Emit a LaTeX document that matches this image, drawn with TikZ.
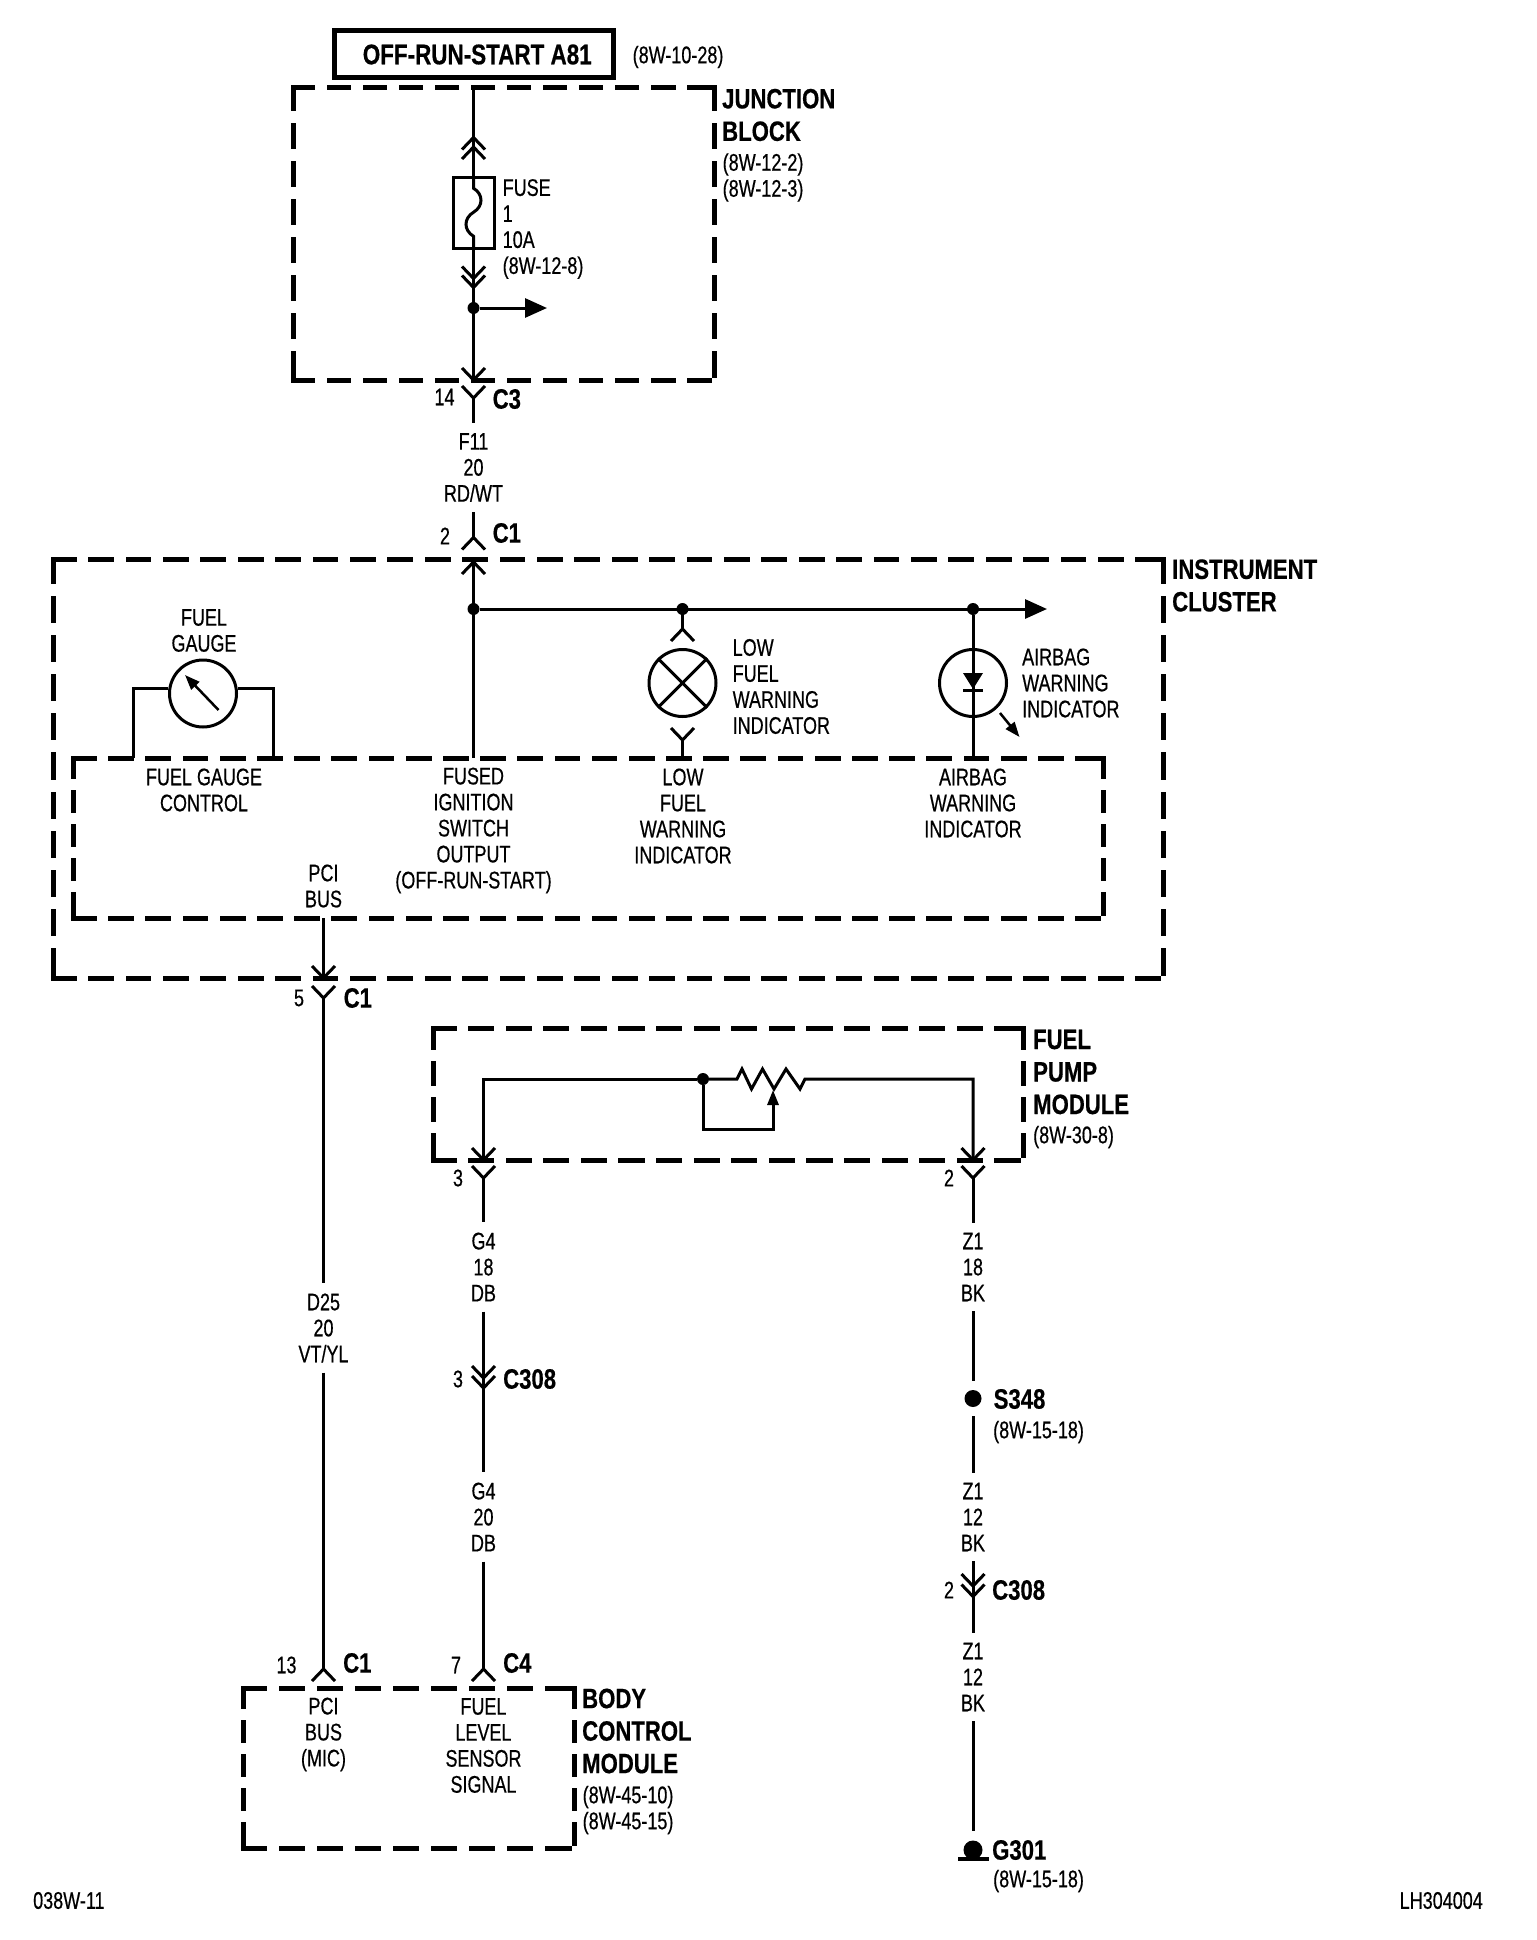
\documentclass[tikz,border=0pt]{standalone}
\usepackage{fontspec}
\usetikzlibrary{arrows.meta}
\newfontfamily\wirefont[FakeStretch=0.75,FakeBold=0.5]{Liberation Sans}
\newfontfamily\namefont[FakeStretch=0.79,FakeBold=0.5,UprightFont={* Bold}]{Liberation Sans}
\newcommand{\modside}[3]{%
  \pgfmathsetmacro{\dashcount}{round((#3-26)/37.5)}%
  \pgfmathsetmacro{\dashper}{#3/(\dashcount+0.693)}%
  \pgfmathsetmacro{\dashon}{0.693*\dashper-5}%
  \pgfmathsetmacro{\dashoff}{0.307*\dashper+5}%
  \draw[line width=5pt,line cap=rect,dash pattern=on \dashon pt off \dashoff pt] (#1) -- (#2);}
\newcommand{\modbox}[4]{%
  \node[inner sep=0pt,outer sep=0pt,minimum width=#3pt,minimum height=#4pt] (#1) at (#2) {};
  \modside{#1.north west}{#1.north east}{#3}
  \modside{#1.south west}{#1.south east}{#3}
  \modside{#1.north west}{#1.south west}{#4}
  \modside{#1.north east}{#1.south east}{#4}}

\begin{document}
\begin{tikzpicture}[x=1pt,y=-1pt]
\tikzset{wire/.style = {line width=3pt}}
\tikzset{edge/.style = {wire,-{Triangle[length=22pt,width=19pt]}}}
\tikzset{smalltip/.style = {line width=2.5pt,-{Triangle[length=15pt,width=11pt]}}}
\tikzset{dot/.style = {shape=circle,fill,inner sep=0pt,minimum size=12pt}}
\tikzset{splice/.style = {shape=circle,fill,inner sep=0pt,minimum size=17pt,outer sep=9pt}}
\tikzset{bulb/.style = {shape=circle,draw,wire,inner sep=0pt,minimum size=67pt}}
\tikzset{txt/.style = {inner xsep=0pt,inner ysep=10pt,align=center,font=\wirefont\fontsize{24}{26}\selectfont}}
\tikzset{ltxt/.style = {txt,anchor=west,align=left}}
\tikzset{partname/.style = {inner sep=0pt,anchor=west,align=left,font=\namefont\fontsize{28}{32.5}\selectfont}}
\tikzset{chevd/.pic = {\draw[wire] (-11.5,-12) -- (0,0) -- (11.5,-12);}}
\tikzset{chevu/.pic = {\draw[wire] (-11.5,12) -- (0,0) -- (11.5,12);}}
\useasboundingbox (0,0) rectangle (1536,1940);

% junction block
\node[draw,line width=5pt,inner sep=0pt,outer sep=0pt,minimum width=279pt,minimum height=47pt,font=\namefont\fontsize{28.4}{32}\selectfont] (feed) at (473.5,54.5) {\hspace*{7.5pt}OFF-RUN-START A81};
\node[ltxt] (feedref) at (632.5,57) {(8W-10-28)};
\modbox{jb}{503.5,233.75}{421}{292.5}
\node[partname] (jbname) at (722,115) {JUNCTION\\BLOCK};
\node[ltxt] (jbref) at (722.5,177.5) {(8W-12-2)\\(8W-12-3)};
\node[draw,wire,inner sep=0pt,minimum width=41pt,minimum height=70.5pt] (fuse) at (473.5,213) {};
\node[ltxt] (fusetxt) at (502.5,229) {FUSE\\1\\10A\\(8W-12-8)};
\coordinate (jbin) at (473.5,87);
\coordinate (fusea) at (473.5,137.5);
\coordinate (fuseb) at (473.5,147);
\coordinate (fusec) at (473.5,278.5);
\coordinate (fused) at (473.5,287.5);
\node[dot] (jbdot) at (473.5,308) {};
\coordinate (jbout) at (547,308);
\coordinate (jbpin) at (473.5,380);
\coordinate (c3) at (473.5,398);
\node[txt] (c3num) at (444.5,397) {14};
\node[partname] (c3name) at (492.5,399) {C3};
\node[txt] (f11) at (473.5,467.5) {F11\\20\\RD/WT};
\coordinate (c1a) at (473.5,537.5);
\node[txt] (c1num) at (445,536) {2};
\node[partname] (c1aname) at (492.5,533) {C1};

\draw[wire] (jbin) -- (fuse.north);
\pic at (fusea) {chevu};
\pic at (fuseb) {chevu};
\draw[wire] (fuse.north) -- ++(0,12) .. controls +(10,6) and +(10,-6) .. ++(0,24) .. controls +(-10,6) and +(-10,-6) .. ++(0,24) -- (fuse.south);
\draw[wire] (fuse.south) -- (jbpin);
\pic at (fusec) {chevd};
\pic at (fused) {chevd};
\draw[edge] (jbdot) -- (jbout);
\pic at (jbpin) {chevd};
\pic at (c3) {chevd};
\draw[wire] (c3) -- (f11);
\draw[wire] (f11) -- (c1a);
\pic at (c1a) {chevu};

% instrument cluster
\modbox{ic}{608.5,768.5}{1110.5}{419}
\node[partname] (icname) at (1172,585.5) {INSTRUMENT\\CLUSTER};
\modbox{ctl}{588.5,838}{1030}{160}
\coordinate (icin) at (473.5,562);
\node[dot] (icdot) at (473.5,609) {};
\node[dot] (lampdot) at (682.5,609) {};
\node[dot] (bagdot) at (973,609) {};
\coordinate (icout) at (1047,609);
\coordinate (icstub) at (473.5,758);

\node[bulb] (gauge) at (203,693.5) {};
\node[txt] (gaugetxt) at (204,630.5) {FUEL\\GAUGE};
\coordinate (gaugel) at (133,758);
\coordinate (gauger) at (273.5,758);
\coordinate (needlea) at (218.5,710);
\coordinate (needleb) at (185,675);

\node[bulb] (lamp) at (682.5,683) {};
\node[ltxt] (lamptxt) at (732.5,686.5) {LOW\\FUEL\\WARNING\\INDICATOR};
\coordinate (lampa) at (682.5,629);
\coordinate (lampb) at (682.5,740);
\coordinate (lampc) at (682.5,758);

\node[bulb] (bag) at (973,683) {};
\node[ltxt] (bagtxt) at (1022,683) {AIRBAG\\WARNING\\INDICATOR};
\coordinate (bagc) at (973,758);
\coordinate (raya) at (1000,713);
\coordinate (rayb) at (1019.5,737);

\node[txt] (ctla) at (204,790) {FUEL GAUGE\\CONTROL};
\node[txt] (ctlb) at (473.5,830.5) {FUSED\\IGNITION\\SWITCH\\OUTPUT\\(OFF-RUN-START)};
\node[txt] (ctlc) at (683,816) {LOW\\FUEL\\WARNING\\INDICATOR};
\node[txt] (ctld) at (973,803) {AIRBAG\\WARNING\\INDICATOR};
\node[txt] (ctle) at (323.5,886) {PCI\\BUS};

\draw[wire] (icin) -- (icstub);
\pic at (icin) {chevu};
\draw[edge] (icdot) -- (icout);
\draw[wire] (gauge.172) -| (gaugel);
\draw[wire] (gauge.8) -| (gauger);
\draw[smalltip] (needlea) -- (needleb);
\draw[wire] (lampdot) -- (lampa);
\pic at (lampa) {chevu};
\draw[wire] (lamp.45) -- (lamp.225);
\draw[wire] (lamp.135) -- (lamp.315);
\pic at (lampb) {chevd};
\draw[wire] (lampb) -- (lampc);
\draw[wire] (bagdot) -- (bagc);
\fill (963,673) -- (983,673) -- (973,689) -- cycle;
\draw[wire] (963,690.5) -- (983,690.5);
\draw[smalltip] (raya) -- (rayb);

% pci bus down to body control module
\coordinate (icpcia) at (323.5,918);
\coordinate (icpcib) at (323.5,978);
\coordinate (c1b) at (323.5,998);
\node[txt] (c1bnum) at (299,998) {5};
\node[partname] (c1bname) at (343.5,998) {C1};
\node[txt] (d25) at (323.5,1328) {D25\\20\\VT/YL};
\coordinate (c1c) at (323.5,1669);
\node[txt] (c1cnum) at (286.5,1665) {13};
\node[partname] (c1cname) at (343,1663) {C1};
\draw[wire] (icpcia) -- (icpcib);
\pic at (icpcib) {chevd};
\pic at (c1b) {chevd};
\draw[wire] (c1b) -- (d25);
\draw[wire] (d25) -- (c1c);
\pic at (c1c) {chevu};

% fuel pump module
\modbox{fpm}{728,1094}{590}{132}
\node[partname] (fpmname) at (1033,1072) {FUEL\\PUMP\\MODULE};
\node[ltxt] (fpmref) at (1033,1137) {(8W-30-8)};
\node[dot] (sendot) at (703,1079) {};
\coordinate (rtop) at (737,1079);
\coordinate (rend) at (805,1079);
\coordinate (wipe) at (773,1090);
\coordinate (wipec) at (703,1129);
\coordinate (pina) at (483.5,1160);
\coordinate (pinb) at (973,1160);
\coordinate (c3a) at (483.5,1178);
\coordinate (c3b) at (973,1178);
\node[txt] (numa) at (458,1178) {3};
\node[txt] (numb) at (949,1178) {2};
\draw[wire] (pina) |- (sendot);
\draw[wire] (sendot) -- (rtop) -- (742,1069) -- (751.5,1089) -- (762.5,1069) -- (774,1089) -- (786,1069) -- (800,1089) -- (rend) -| (pinb);
\draw[wire] (sendot) |- (wipec) -| (773,1105);
\draw[smalltip,line width=3pt] (773,1129) -- (wipe);
\pic at (pina) {chevd};
\pic at (pinb) {chevd};
\pic at (c3a) {chevd};
\pic at (c3b) {chevd};

% left run
\node[txt] (g4a) at (483.5,1267) {G4\\18\\DB};
\coordinate (c308a) at (483.5,1378);
\coordinate (c308b) at (483.5,1388);
\node[txt] (c308num) at (458,1379) {3};
\node[partname] (c308name) at (503,1379) {C308};
\node[txt] (g4b) at (483.5,1517) {G4\\20\\DB};
\coordinate (c4) at (483.5,1669);
\node[txt] (c4num) at (456,1665) {7};
\node[partname] (c4name) at (503,1663) {C4};
\draw[wire] (c3a) -- (g4a);
\draw[wire] (g4a) -- (g4b);
\pic at (c308a) {chevd};
\pic at (c308b) {chevd};
\draw[wire] (g4b) -- (c4);
\pic at (c4) {chevu};

% right run
\node[txt] (z1a) at (973,1267) {Z1\\18\\BK};
\node[splice] (s348) at (973,1398.5) {};
\node[partname] (s348name) at (993.5,1399) {S348};
\node[ltxt] (s348ref) at (993,1432) {(8W-15-18)};
\node[txt] (z1b) at (973,1517) {Z1\\12\\BK};
\coordinate (c308c) at (973,1586);
\coordinate (c308d) at (973,1596.5);
\node[txt] (c308cnum) at (949,1590) {2};
\node[partname] (c308cname) at (992,1590) {C308};
\node[txt] (z1c) at (973,1677) {Z1\\12\\BK};
\coordinate (gnd) at (973,1831);
\node[partname] (g301) at (992,1850) {G301};
\node[ltxt] (g301ref) at (993,1881) {(8W-15-18)};
\draw[wire] (c3b) -- (z1a);
\draw[wire] (z1a) -- (s348);
\draw[wire] (s348) -- (z1b);
\draw[wire] (z1b) -- (z1c);
\pic at (c308c) {chevd};
\pic at (c308d) {chevd};
\draw[wire] (z1c) -- (gnd);
\node[shape=circle,fill,inner sep=0pt,minimum size=19pt] (g301dot) at (973,1850) {};
\draw[line width=4pt] (958,1858.5) -- (989,1858.5);

% body control module
\modbox{bcm}{408.5,1768}{331}{160}
\node[partname] (bcmname) at (582,1731) {BODY\\CONTROL\\MODULE};
\node[ltxt] (bcmref) at (582.5,1810) {(8W-45-10)\\(8W-45-15)};
\node[txt] (bcma) at (323.5,1734.5) {PCI\\BUS\\(MIC)};
\node[txt] (bcmb) at (483.5,1745.5) {FUEL\\LEVEL\\SENSOR\\SIGNAL};

% page marks
\node[ltxt] (pagea) at (33,1900.5) {038W-11};
\node[ltxt] (pageb) at (1399.5,1900.5) {LH304004};
\end{tikzpicture}
\end{document}
